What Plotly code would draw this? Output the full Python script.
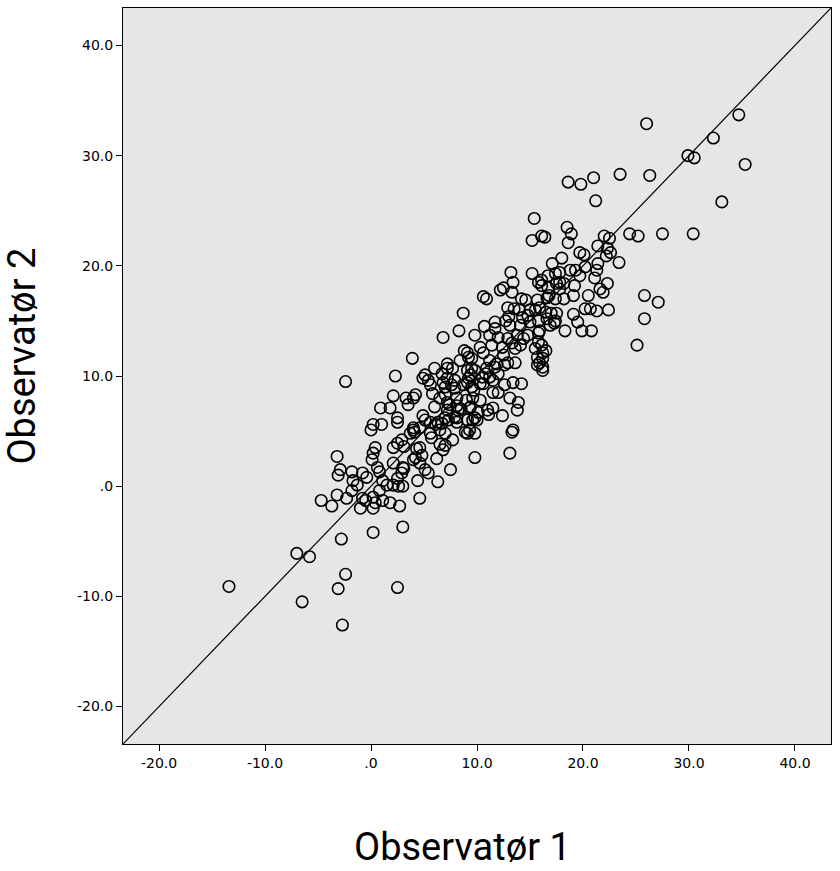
import plotly.graph_objects as go

# Observer pairs (Observatør 1, Observatør 2)
pairs_low = [
    (-13.4, -9.1), (-7.0, -6.1), (-5.8, -6.4), (-6.5, -10.5), (-2.8, -4.8), (-2.4, -8.0),
    (-3.1, -9.3), (-2.7, -12.6), (0.2, -4.2), (3.0, -3.7), (2.5, -9.2), (-2.4, 9.5),
    (-4.7, -1.3), (-3.7, -1.8), (-3.2, -0.8), (-2.3, -1.1), (-3.2, 2.7), (-2.9, 1.5),
    (-3.1, 1.0), (-1.8, 1.3), (-1.7, 0.5), (-1.3, 0.1), (-1.8, -0.4), (-0.8, -1.1),
    (-1.0, -2.0), (0.2, -2.0), (0.4, -1.5), (-0.8, 1.2), (-0.4, 0.8), (-0.5, -1.3),
]
pairs_b = [
    (0.4, 3.5), (0.2, 3.0), (0.1, 2.4), (0.6, 1.7), (0.8, 1.3), (1.1, 0.5), (1.5, 0.1),
    (0.8, -0.4), (0.2, -1.0), (1.1, -1.3), (1.8, -1.5), (2.1, 0.1), (2.5, 0.7), (2.9, 1.2),
    (3.0, 1.7), (2.1, 3.5), (2.5, 3.9), (2.9, 4.2), (3.7, 4.8), (4.0, 5.1), (4.6, 3.5),
    (4.2, 2.6), (4.6, 2.1), (5.1, 1.5), (5.4, 1.2), (4.4, 0.5), (6.3, 0.4), (4.6, -1.1),
    (2.7, -1.8), (2.6, 0.0), (3.0, 0.0), (2.1, 2.1), (3.1, 3.6), (3.1, 1.6), (4.0, 2.4),
    (4.3, 3.4), (4.8, 2.8), (0.0, 5.1), (0.2, 5.6), (1.0, 5.6), (0.9, 7.1), (1.8, 7.1),
    (2.1, 8.2), (2.3, 10.0), (2.5, 5.8), (3.3, 8.0), (3.5, 7.4), (3.9, 11.6), (4.1, 4.9),
    (4.2, 8.3), (2.5, 6.2), (4.0, 8.0), (4.0, 5.3), (4.6, 5.3), (4.9, 6.4), (5.1, 6.0),
]
pairs_c = [
    (5.6, 4.8), (6.5, 5.1), (7.0, 4.8), (6.2, 2.5), (6.8, 3.3), (7.5, 1.5), (7.3, 6.0),
    (8.1, 5.8), (9.6, 6.0), (7.7, 4.2), (7.0, 3.7), (9.1, 4.8), (9.8, 4.8), (9.8, 2.6),
    (5.7, 4.4), (6.1, 5.6), (6.5, 3.8), (5.1, 10.1), (5.4, 9.6), (6.0, 10.7), (6.7, 10.2),
    (7.2, 10.7), (5.6, 9.2), (6.8, 9.4), (5.8, 8.4), (7.0, 8.3), (6.0, 7.2), (7.2, 6.9),
    (5.6, 5.8), (6.3, 5.8), (7.0, 6.2), (4.9, 9.8), (6.5, 8.0), (6.8, 13.5), (7.2, 11.1),
    (7.4, 7.4), (7.6, 9.2), (7.9, 6.3), (8.1, 8.0), (8.3, 14.1), (8.4, 11.4), (8.5, 7.0),
    (8.7, 15.7), (8.8, 12.3), (8.9, 4.9), (9.0, 7.8), (9.1, 9.4), (9.2, 11.7), (9.3, 5.1),
    (9.4, 7.2), (9.4, 10.1), (9.5, 10.7), (9.7, 8.7), (10.0, 6.0),
]
pairs_d = [
    (9.8, 13.7), (11.2, 13.7), (12.0, 13.5), (12.9, 13.4), (13.8, 13.7), (14.8, 13.7),
    (15.8, 13.9), (9.1, 12.1), (9.5, 11.6), (10.3, 12.6), (10.6, 12.1), (11.4, 12.8),
    (12.4, 12.6), (13.3, 13.0), (14.1, 12.8), (15.5, 12.5), (16.1, 12.8), (16.2, 12.1),
    (15.7, 11.7), (15.9, 11.2), (15.7, 11.0), (16.2, 10.8), (7.7, 10.7), (9.1, 10.5),
    (9.8, 10.5), (10.9, 10.7), (11.7, 10.8), (12.6, 11.0), (13.6, 11.2), (7.2, 9.8),
    (7.9, 9.6), (9.2, 9.8), (10.5, 9.9), (11.2, 9.9), (12.0, 10.2), (7.0, 9.0), (7.9, 8.9),
    (8.7, 9.2), (9.5, 9.0), (10.6, 9.3), (11.5, 8.5), (12.0, 8.5), (12.6, 9.2), (13.4, 9.4),
    (14.2, 9.3), (7.2, 7.6), (8.1, 7.3), (9.6, 8.0), (10.3, 7.8), (8.2, 6.9), (9.3, 7.1),
    (10.1, 6.7), (11.0, 6.9), (11.5, 7.1), (12.4, 6.4), (13.9, 7.6), (13.8, 6.9), (8.1, 6.2),
    (9.1, 6.0), (9.8, 6.2), (6.7, 5.7), (13.4, 5.1),
]
pairs_e = [
    (10.3, 9.3), (10.6, 17.2), (10.7, 14.5), (10.8, 10.2), (10.9, 17.0), (11.1, 6.5),
    (11.2, 11.4), (11.5, 9.6), (11.7, 14.3), (11.9, 11.1), (12.2, 17.8), (12.5, 18.0),
    (12.5, 11.9), (12.7, 15.0), (12.9, 11.2), (13.0, 15.4), (13.1, 8.0), (13.1, 3.0),
    (13.2, 19.4), (13.3, 4.9), (13.4, 18.5), (13.5, 16.1), (13.6, 12.5), (14.2, 17.0),
    (14.3, 15.3), (14.4, 13.4), (14.6, 16.9), (14.8, 15.5), (15.0, 14.9), (15.2, 19.3),
    (15.8, 18.5), (17.4, 19.3), (16.7, 18.0), (17.5, 18.4), (13.3, 17.6), (16.6, 17.1),
    (17.4, 17.0), (12.9, 16.2), (14.0, 16.0), (15.0, 16.0), (15.9, 16.2), (11.7, 14.9),
    (13.1, 14.6), (14.1, 14.6), (15.8, 15.0), (16.6, 15.2), (17.4, 15.0),
]
pairs_f = [
    (15.2, 22.3), (15.4, 24.3), (15.5, 16.0), (15.7, 16.9), (15.8, 13.1), (15.9, 14.1),
    (16.1, 18.7), (16.1, 22.7), (16.4, 22.6), (16.5, 12.3), (16.7, 19.1), (16.8, 17.3),
    (17.0, 15.7), (17.1, 20.2), (17.3, 14.8), (17.5, 15.7), (17.8, 18.5), (18.0, 20.7),
    (18.2, 17.0), (18.3, 14.1), (18.5, 23.5), (18.6, 27.6), (18.6, 22.1), (18.8, 19.6),
    (18.9, 22.9), (19.1, 15.6), (19.2, 18.2), (19.3, 19.6), (19.5, 14.9), (19.7, 21.2),
    (19.8, 27.4), (19.9, 14.1), (20.1, 21.0), (20.2, 16.1), (20.5, 17.3), (20.7, 16.1),
    (20.8, 14.1), (21.0, 28.0), (21.2, 25.9), (21.3, 19.6), (21.4, 21.8), (21.6, 17.9),
    (21.9, 17.6), (22.0, 22.7), (22.2, 20.9), (22.3, 18.4), (22.4, 16.0), (22.5, 22.5),
    (22.6, 21.2), (22.3, 21.6), (21.4, 20.2), (20.2, 19.9), (17.8, 19.4), (21.1, 18.9),
    (19.7, 19.1), (19.1, 17.3), (18.2, 18.4), (16.1, 18.2), (17.8, 17.9), (21.3, 15.9),
    (16.5, 15.8), (16.9, 14.6), (16.2, 11.6), (16.2, 10.5),
]
pairs_high = [
    (23.5, 28.3), (23.4, 20.3), (24.4, 22.9), (25.2, 22.7), (25.1, 12.8), (25.8, 15.2),
    (25.8, 17.3), (26.0, 32.9), (26.3, 28.2), (27.1, 16.7), (27.5, 22.9), (29.9, 30.0),
    (30.5, 29.8), (30.4, 22.9), (32.3, 31.6), (33.1, 25.8), (34.7, 33.7), (35.3, 29.2),
]

all_pairs = pairs_low + pairs_b + pairs_c + pairs_d + pairs_e + pairs_f + pairs_high
obs1 = [p[0] for p in all_pairs]
obs2 = [p[1] for p in all_pairs]

axis_range = [-23.4, 43.4]
tick_vals = [-20, -10, 0, 10, 20, 30, 40]
tick_text = ["-20.0", "-10.0", ".0", "10.0", "20.0", "30.0", "40.0"]
x_title = "Observatør 1"
y_title = "Observatør 2"

fig = go.Figure()
fig.add_trace(go.Scatter(
    x=obs1, y=obs2, mode="markers",
    marker=dict(symbol="circle-open", size=11.5, color="black", line=dict(width=1.6, color="black")),
    hoverinfo="x+y", showlegend=False,
))

# identity reference line
fig.add_shape(type="line", xref="x", yref="y",
              x0=axis_range[0], y0=axis_range[0], x1=axis_range[1], y1=axis_range[1],
              line=dict(color="black", width=1.2), layer="above")

tick_font = dict(family="DejaVu Sans", size=14, color="#000000")
axis_common = dict(
    range=axis_range, tickvals=tick_vals, ticktext=tick_text, ticks="outside",
    ticklen=6, tickwidth=1, tickcolor="black", showgrid=False, zeroline=False,
    showline=True, linecolor="black", linewidth=1, mirror=True, tickfont=tick_font,
)
fig.update_xaxes(**axis_common)
fig.update_yaxes(**axis_common)

title_font = dict(family="Roboto, sans-serif", size=38, color="black")
fig.add_annotation(text=x_title, xref="paper", yref="paper", x=0.479, y=-0.14,
                   xanchor="center", yanchor="middle", showarrow=False, font=title_font)
fig.add_annotation(text=y_title, xref="paper", yref="paper", x=-0.142, y=0.527,
                   xanchor="center", yanchor="middle", showarrow=False, textangle=-90,
                   font=title_font)

fig.update_layout(
    width=840, height=871,
    margin=dict(l=123, r=9, t=8, b=127),
    plot_bgcolor="#E6E6E6", paper_bgcolor="white",
)
# remove the default page margin so the figure fills the window exactly
fig.write_html("out.html", config={"displayModeBar": False},
               post_script="document.body.style.margin='0';")
